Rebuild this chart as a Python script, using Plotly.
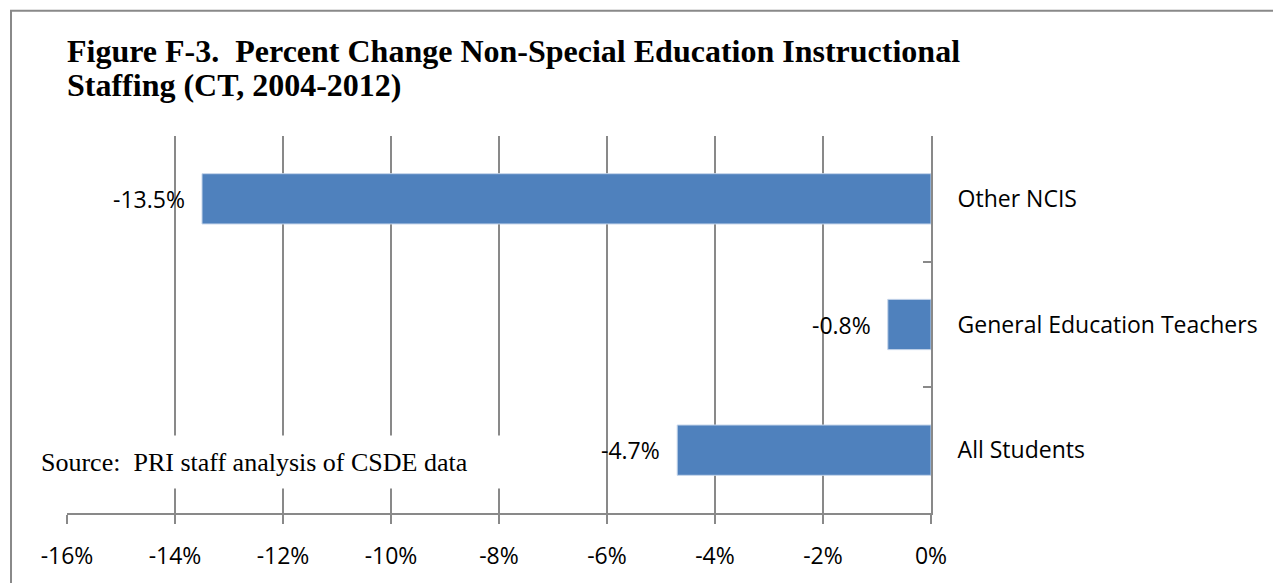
import plotly.graph_objects as go

categories = ["All Students", "General Education Teachers", "Other NCIS"]
values = [-4.7, -0.8, -13.5]
x_ticks = [-16, -14, -12, -10, -8, -6, -4, -2, 0]
x_tick_labels = ["-16%", "-14%", "-12%", "-10%", "-8%", "-6%", "-4%", "-2%", "0%"]

title_line1 = "Figure F-3.\u00a0 Percent Change Non-Special Education Instructional"
title_line2 = "Staffing (CT, 2004-2012)"
source_text = "Source:\u00a0 PRI staff analysis of CSDE data"

GRAY = "#898989"
SANS = "Open Sans"

fig = go.Figure()
fig.add_trace(go.Bar(
    y=categories, x=values, orientation="h",
    marker=dict(color="#4F81BD", line=dict(color="#C5D5EA", width=1)),
    width=0.4, showlegend=False, hoverinfo="skip",
))

for c, v in zip(categories, values):
    fig.add_annotation(x=v, y=c, xref="x", yref="y", text=f"{v:.1f}%",
                       showarrow=False, xanchor="right", yanchor="middle",
                       xshift=-15, font=dict(family=SANS, size=23, color="black"))

fig.add_annotation(xref="paper", yref="paper", x=-0.036, y=0.136, xanchor="left", yanchor="middle",
                   text=source_text, showarrow=False, bgcolor="white", align="left",
                   width=480, height=44, borderpad=4,
                   font=dict(family="Liberation Serif", size=26, color="black"))

fig.add_annotation(xref="paper", yref="paper", x=-0.002, y=1.2251, xanchor="left", yanchor="middle",
                   text="<b>" + title_line1 + "</b>", showarrow=False, align="left",
                   font=dict(family="Liberation Serif", size=32, color="black"))
fig.add_annotation(xref="paper", yref="paper", x=-0.002, y=1.136, xanchor="left", yanchor="middle",
                   text="<b>" + title_line2 + "</b>", showarrow=False, align="left",
                   font=dict(family="Liberation Serif", size=32, color="black"))

fig.update_layout(
    width=1273, height=583,
    margin=dict(l=67, r=342, t=136, b=65),
    paper_bgcolor="white", plot_bgcolor="white",
    xaxis=dict(range=[-16, 0], tickvals=x_ticks, ticktext=x_tick_labels,
               showgrid=True, gridcolor=GRAY, gridwidth=1.5,
               showline=True, linecolor=GRAY, linewidth=2,
               ticks="outside", ticklen=9, tickcolor=GRAY, tickwidth=1.5,
               ticklabelstandoff=12, zeroline=False,
               tickfont=dict(family=SANS, size=23, color="black")),
    yaxis=dict(categoryorder="array", categoryarray=categories, side="right",
               range=[-0.5, 2.5], tickson="boundaries", ticks="inside", ticklen=8,
               tickcolor=GRAY, tickwidth=1.5,
               showline=True, linecolor=GRAY, linewidth=2,
               showgrid=False, ticklabelstandoff=20,
               tickfont=dict(family=SANS, size=23, color="black")),
    shapes=[dict(type="rect", xref="paper", yref="paper", x0=-0.0648, x1=1.5, y0=-0.5, y1=1.3325,
                 line=dict(color=GRAY, width=2), fillcolor="rgba(0,0,0,0)", layer="below")],
)

fig.write_html("out.html", config={"displayModeBar": False},
               post_script="document.body.style.margin='0';")
